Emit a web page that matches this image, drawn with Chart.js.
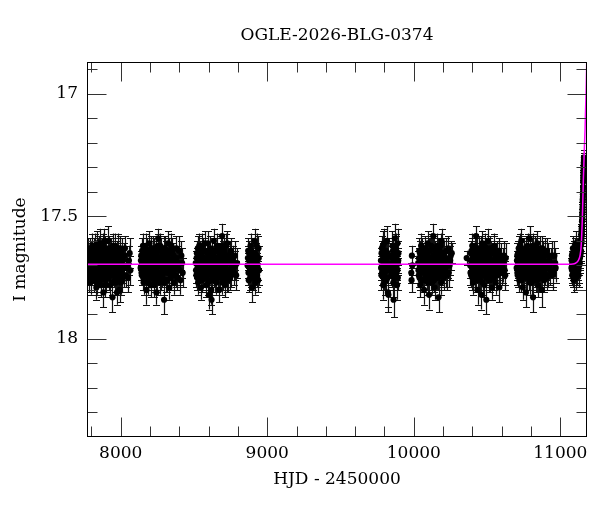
<!DOCTYPE html>
<html>
<head>
<meta charset="utf-8">
<script src="https://cdn.jsdelivr.net/npm/chart.js@4"></script>
<style>
html,body{margin:0;padding:0;background:#fff;}
#wrap{position:relative;width:600px;height:512px;}
</style>
</head>
<body>
<div id="wrap"><canvas id="c"></canvas></div>
<script>
// Observations per season: [HJD-2450000, I mag, error]
const season1 = [[7772,17.70,0.04],[7775,17.66,0.05],[7779,17.74,0.04],[7783,17.68,0.03],[7786,17.72,0.05],[7790,17.63,0.04],[7794,17.77,0.05],[7797,17.69,0.03],[7801,17.71,0.04],[7805,17.65,0.05],
[7808,17.73,0.04],[7812,17.67,0.04],[7816,17.76,0.05],[7819,17.70,0.03],[7823,17.62,0.05],[7827,17.74,0.04],[7830,17.68,0.04],[7834,17.79,0.05],[7838,17.66,0.04],[7841,17.71,0.03],
[7845,17.64,0.05],[7849,17.75,0.04],[7852,17.69,0.04],[7856,17.72,0.05],[7860,17.61,0.06],[7863,17.78,0.05],[7867,17.67,0.04],[7871,17.73,0.04],[7874,17.70,0.03],[7878,17.65,0.05],
[7882,17.81,0.06],[7885,17.69,0.04],[7887,17.60,0.05],[7889,17.74,0.04],[7893,17.63,0.05],[7896,17.71,0.04],[7900,17.76,0.05],[7904,17.68,0.04],[7907,17.66,0.04],[7911,17.72,0.03],[7915,17.60,0.06],
[7918,17.75,0.05],[7922,17.70,0.04],[7926,17.67,0.04],[7929,17.78,0.05],[7933,17.64,0.05],[7937,17.73,0.04],[7940,17.69,0.04],[7944,17.83,0.06],[7948,17.66,0.04],[7951,17.71,0.03],
[7955,17.74,0.05],[7959,17.62,0.05],[7962,17.70,0.04],[7966,17.77,0.05],[7970,17.68,0.04],[7973,17.65,0.05],[7975,17.81,0.05],[7977,17.72,0.04],[7981,17.75,0.04],[7984,17.63,0.06],[7988,17.70,0.04],
[7992,17.80,0.05],[7995,17.67,0.04],[7999,17.73,0.04],[8003,17.69,0.05],[8007,17.64,0.05],[8012,17.76,0.05],[8018,17.71,0.04],[8025,17.66,0.05],[8034,17.74,0.05],[8045,17.70,0.05],[8056,17.68,0.06],[8066,17.72,0.06],
[7774,17.73,0.04],[7777,17.64,0.05],[7781,17.70,0.04],[7784,17.76,0.05],[7788,17.67,0.04],[7792,17.71,0.04],[7795,17.65,0.05],[7799,17.74,0.04],[7803,17.69,0.04],[7806,17.62,0.05],
[7810,17.72,0.04],[7814,17.68,0.04],[7817,17.64,0.05],[7821,17.75,0.05],[7825,17.70,0.04],[7828,17.66,0.04],[7832,17.73,0.04],[7836,17.61,0.05],[7839,17.77,0.05],[7843,17.69,0.04],
[7847,17.67,0.04],[7850,17.72,0.04],[7854,17.63,0.05],[7858,17.74,0.04],[7861,17.70,0.04],[7865,17.76,0.05],[7869,17.65,0.04],[7872,17.68,0.04],[7876,17.73,0.05],[7880,17.62,0.05],
[7883,17.71,0.04],[7891,17.67,0.04],[7895,17.78,0.05],[7898,17.64,0.05],[7902,17.72,0.04],[7906,17.75,0.04],[7909,17.69,0.04],[7913,17.66,0.05],[7917,17.71,0.04],[7920,17.63,0.05],
[7924,17.74,0.04],[7928,17.68,0.04],[7931,17.72,0.04],[7935,17.65,0.05],[7939,17.77,0.05],[7942,17.70,0.04],[7946,17.62,0.05],[7950,17.74,0.04],[7953,17.67,0.04],[7957,17.71,0.04],
[7961,17.76,0.05],[7964,17.64,0.05],[7968,17.72,0.04],[7972,17.69,0.04],[7979,17.66,0.05],[7983,17.73,0.04],[7986,17.68,0.04],[7990,17.75,0.05],[7994,17.63,0.05],[7997,17.70,0.04],
[8001,17.77,0.05],[8005,17.66,0.04],[8009,17.72,0.05],[8015,17.68,0.05],[8021,17.74,0.05],[8029,17.63,0.05],[8039,17.71,0.05],[8050,17.75,0.06],[8061,17.65,0.06]];

const season2 = [[8136,17.71,0.05],[8140,17.66,0.04],[8144,17.74,0.04],[8148,17.69,0.05],[8152,17.62,0.05],[8156,17.77,0.05],[8160,17.70,0.04],[8164,17.65,0.04],[8168,17.73,0.04],[8172,17.68,0.03],
[8176,17.80,0.06],[8180,17.64,0.05],[8184,17.71,0.04],[8188,17.75,0.04],[8192,17.67,0.04],[8196,17.61,0.05],[8200,17.72,0.04],[8204,17.78,0.05],[8208,17.69,0.04],[8212,17.66,0.04],
[8216,17.74,0.05],[8220,17.63,0.05],[8224,17.70,0.03],[8228,17.76,0.05],[8232,17.68,0.04],[8236,17.72,0.04],[8240,17.65,0.05],[8244,17.81,0.05],[8248,17.69,0.04],[8252,17.62,0.05],
[8256,17.59,0.04],[8260,17.73,0.04],[8264,17.67,0.04],[8268,17.77,0.05],[8272,17.70,0.04],[8276,17.64,0.05],[8280,17.75,0.04],[8284,17.68,0.04],[8288,17.71,0.03],[8292,17.66,0.04],
[8296,17.84,0.06],[8300,17.72,0.04],[8304,17.63,0.05],[8308,17.69,0.04],[8312,17.76,0.05],[8316,17.67,0.04],[8320,17.73,0.04],[8324,17.61,0.05],[8328,17.70,0.04],[8332,17.79,0.05],
[8336,17.65,0.04],[8340,17.72,0.04],[8344,17.68,0.05],[8348,17.74,0.04],[8352,17.64,0.05],[8357,17.71,0.04],[8362,17.77,0.05],[8367,17.67,0.04],[8373,17.70,0.05],[8379,17.63,0.05],[8386,17.75,0.05],[8394,17.69,0.05],[8403,17.72,0.06],[8414,17.66,0.06],[8423,17.73,0.06],
[8138,17.68,0.04],[8142,17.73,0.05],[8146,17.64,0.05],[8150,17.70,0.04],[8154,17.75,0.05],[8158,17.66,0.04],[8162,17.72,0.04],[8166,17.69,0.04],[8170,17.62,0.05],[8174,17.74,0.04],
[8178,17.70,0.04],[8182,17.67,0.04],[8186,17.77,0.05],[8190,17.71,0.04],[8194,17.65,0.05],[8198,17.73,0.04],[8202,17.68,0.04],[8206,17.63,0.05],[8210,17.75,0.05],[8214,17.70,0.04],
[8218,17.67,0.04],[8222,17.72,0.04],[8226,17.64,0.05],[8230,17.78,0.05],[8234,17.69,0.04],[8238,17.74,0.04],[8242,17.66,0.04],[8246,17.71,0.04],[8250,17.76,0.05],[8254,17.68,0.04],
[8258,17.64,0.05],[8262,17.70,0.04],[8266,17.73,0.04],[8270,17.62,0.05],[8274,17.75,0.05],[8278,17.69,0.04],[8282,17.66,0.04],[8286,17.74,0.04],[8290,17.71,0.04],[8294,17.63,0.05],
[8298,17.77,0.05],[8302,17.68,0.04],[8306,17.72,0.04],[8310,17.65,0.05],[8314,17.70,0.04],[8318,17.76,0.05],[8322,17.67,0.04],[8326,17.73,0.04],[8330,17.64,0.05],[8334,17.71,0.04],
[8338,17.69,0.04],[8342,17.75,0.05],[8346,17.62,0.05],[8350,17.70,0.04],[8355,17.73,0.04],[8360,17.66,0.05],[8365,17.72,0.04],[8370,17.68,0.05],[8376,17.74,0.05],[8382,17.67,0.05],[8390,17.71,0.05],[8398,17.64,0.06],[8408,17.76,0.06],[8419,17.69,0.06]];

const season3 = [[8512,17.69,0.05],[8516,17.74,0.05],[8520,17.65,0.05],[8524,17.71,0.04],[8528,17.77,0.05],[8532,17.67,0.04],[8536,17.62,0.05],[8540,17.73,0.04],[8544,17.70,0.04],[8548,17.79,0.05],
[8552,17.66,0.04],[8556,17.72,0.04],[8560,17.64,0.05],[8564,17.75,0.04],[8568,17.69,0.03],[8572,17.61,0.05],[8576,17.73,0.04],[8580,17.68,0.04],[8584,17.78,0.05],[8588,17.71,0.04],
[8592,17.65,0.05],[8596,17.74,0.04],[8600,17.67,0.04],[8604,17.82,0.06],[8608,17.70,0.04],[8612,17.63,0.05],[8616,17.76,0.05],[8620,17.84,0.06],[8624,17.69,0.04],[8628,17.72,0.04],
[8632,17.66,0.04],[8636,17.60,0.05],[8640,17.74,0.05],[8644,17.68,0.04],[8648,17.71,0.03],[8652,17.77,0.05],[8656,17.64,0.05],[8660,17.70,0.04],[8664,17.73,0.04],[8668,17.67,0.04],
[8672,17.80,0.05],[8676,17.65,0.04],[8680,17.72,0.04],[8684,17.69,0.04],[8688,17.62,0.05],[8692,17.58,0.05],[8696,17.75,0.05],[8700,17.68,0.04],[8704,17.71,0.04],[8708,17.64,0.05],
[8712,17.78,0.05],[8716,17.70,0.04],[8720,17.66,0.04],[8724,17.73,0.04],[8728,17.61,0.05],[8733,17.76,0.05],[8738,17.69,0.04],[8743,17.72,0.04],[8749,17.65,0.05],[8755,17.74,0.05],[8762,17.68,0.05],[8770,17.71,0.05],[8779,17.66,0.06],[8788,17.74,0.06],[8794,17.69,0.06],
[8514,17.72,0.05],[8518,17.67,0.04],[8522,17.75,0.05],[8526,17.63,0.05],[8530,17.70,0.04],[8534,17.74,0.04],[8538,17.68,0.04],[8542,17.65,0.05],[8546,17.72,0.04],[8550,17.69,0.04],
[8554,17.76,0.05],[8558,17.62,0.05],[8562,17.71,0.04],[8566,17.67,0.04],[8570,17.73,0.04],[8574,17.70,0.04],[8578,17.64,0.05],[8582,17.75,0.05],[8586,17.68,0.04],[8590,17.72,0.04],
[8594,17.61,0.05],[8598,17.77,0.05],[8602,17.69,0.04],[8606,17.66,0.04],[8610,17.73,0.04],[8614,17.70,0.04],[8618,17.80,0.06],[8622,17.65,0.05],[8626,17.74,0.04],[8630,17.68,0.04],
[8634,17.71,0.04],[8638,17.64,0.05],[8642,17.76,0.05],[8646,17.70,0.04],[8650,17.67,0.04],[8654,17.73,0.04],[8658,17.62,0.05],[8662,17.75,0.05],[8666,17.69,0.04],[8670,17.72,0.04],
[8674,17.66,0.04],[8678,17.74,0.05],[8682,17.63,0.05],[8686,17.71,0.04],[8690,17.68,0.04],[8694,17.77,0.05],[8698,17.65,0.05],[8702,17.73,0.04],[8706,17.70,0.04],[8710,17.67,0.04],
[8714,17.74,0.04],[8718,17.62,0.05],[8722,17.69,0.04],[8726,17.76,0.05],[8730,17.66,0.04],[8735,17.72,0.04],[8740,17.68,0.04],[8746,17.75,0.05],[8752,17.64,0.05],[8758,17.71,0.05],[8766,17.67,0.05],[8774,17.73,0.05],[8783,17.70,0.06]];

const season4 = [[8866,17.70,0.05],[8870,17.64,0.05],[8874,17.76,0.05],[8878,17.68,0.04],[8882,17.72,0.04],[8886,17.62,0.05],[8890,17.74,0.05],[8894,17.67,0.04],[8898,17.79,0.06],[8902,17.70,0.04],
[8906,17.65,0.05],[8910,17.73,0.04],[8914,17.60,0.05],[8918,17.77,0.05],[8922,17.69,0.04],[8926,17.66,0.05],[8930,17.74,0.05],[8935,17.71,0.05],[8940,17.63,0.05],[8944,17.72,0.06],
[8868,17.67,0.05],[8872,17.73,0.05],[8876,17.65,0.05],[8880,17.71,0.04],[8884,17.75,0.05],[8888,17.68,0.04],[8892,17.64,0.05],[8896,17.72,0.04],[8900,17.66,0.05],[8904,17.75,0.05],
[8908,17.69,0.04],[8912,17.71,0.04],[8916,17.65,0.05],[8920,17.73,0.05],[8924,17.68,0.04],[8928,17.62,0.05],[8932,17.70,0.05],[8938,17.76,0.05],[8942,17.67,0.05]];

const season5 = [[9776,17.68,0.05],[9779,17.74,0.06],[9782,17.63,0.05],[9785,17.71,0.05],[9788,17.66,0.05],[9791,17.78,0.06],[9794,17.70,0.05],[9797,17.61,0.06],[9800,17.73,0.05],[9803,17.67,0.05],
[9806,17.76,0.06],[9809,17.64,0.05],[9812,17.72,0.05],[9815,17.69,0.05],[9818,17.60,0.06],[9821,17.75,0.05],[9824,17.81,0.06],[9827,17.82,0.07],[9830,17.70,0.05],
[9848,17.66,0.05],[9851,17.73,0.05],[9854,17.62,0.06],[9857,17.70,0.05],[9860,17.77,0.06],[9862,17.84,0.07],[9865,17.67,0.05],[9868,17.72,0.05],[9871,17.59,0.06],[9874,17.74,0.05],
[9877,17.68,0.05],[9880,17.64,0.06],[9883,17.71,0.05],[9886,17.78,0.06],[9889,17.61,0.06],[9892,17.69,0.05],[9895,17.65,0.05],
[9777,17.71,0.05],[9780,17.65,0.05],[9783,17.73,0.05],[9786,17.68,0.05],[9789,17.62,0.06],[9792,17.70,0.05],[9795,17.75,0.05],[9798,17.66,0.05],[9801,17.69,0.05],[9804,17.72,0.05],
[9807,17.64,0.05],[9810,17.70,0.05],[9813,17.76,0.06],[9816,17.67,0.05],[9819,17.72,0.05],[9822,17.65,0.05],[9826,17.70,0.05],
[9846,17.69,0.05],[9849,17.74,0.05],[9852,17.67,0.05],[9855,17.72,0.05],[9858,17.64,0.05],[9861,17.70,0.05],[9864,17.75,0.05],[9867,17.66,0.05],[9870,17.71,0.05],[9873,17.68,0.05],
[9876,17.63,0.06],[9879,17.73,0.05],[9882,17.69,0.05],[9885,17.66,0.05],[9888,17.72,0.05],[9891,17.75,0.05],[9894,17.68,0.05]];

const season6 = [[9983,17.73,0.04],[9985,17.76,0.05],[9987,17.66,0.04],[9990,17.70,0.04],
[10030,17.69,0.05],[10034,17.74,0.05],[10037,17.64,0.05],[10040,17.71,0.04],[10044,17.78,0.05],[10047,17.67,0.04],[10050,17.62,0.05],[10054,17.72,0.04],[10057,17.69,0.04],[10060,17.76,0.05],
[10064,17.65,0.04],[10067,17.71,0.04],[10070,17.80,0.06],[10074,17.68,0.04],[10077,17.63,0.05],[10080,17.73,0.04],[10084,17.70,0.03],[10087,17.66,0.04],[10090,17.75,0.05],[10094,17.61,0.05],
[10097,17.72,0.04],[10100,17.68,0.04],[10104,17.82,0.06],[10107,17.70,0.04],[10110,17.64,0.05],[10114,17.74,0.04],[10117,17.67,0.04],[10120,17.71,0.03],[10124,17.77,0.05],[10127,17.63,0.05],
[10130,17.69,0.04],[10133,17.58,0.05],[10136,17.73,0.04],[10139,17.66,0.04],[10142,17.79,0.05],[10145,17.70,0.04],[10148,17.65,0.05],[10151,17.72,0.04],[10154,17.68,0.04],[10157,17.75,0.05],
[10160,17.62,0.05],[10163,17.71,0.04],[10166,17.67,0.04],[10169,17.83,0.06],[10172,17.69,0.04],[10175,17.64,0.05],[10178,17.74,0.04],[10181,17.70,0.04],[10184,17.66,0.05],[10187,17.77,0.05],
[10190,17.60,0.05],[10194,17.72,0.04],[10198,17.68,0.05],[10203,17.75,0.05],[10208,17.65,0.05],[10214,17.71,0.05],[10220,17.67,0.05],[10227,17.74,0.06],[10235,17.63,0.05],[10244,17.70,0.06],[10252,17.66,0.06],[10259,17.65,0.04],
[10032,17.72,0.05],[10035,17.67,0.04],[10039,17.75,0.05],[10042,17.65,0.05],[10045,17.70,0.04],[10049,17.73,0.04],[10052,17.68,0.04],[10055,17.64,0.05],[10059,17.71,0.04],[10062,17.69,0.04],
[10065,17.76,0.05],[10069,17.66,0.04],[10072,17.72,0.04],[10075,17.70,0.04],[10079,17.63,0.05],[10082,17.74,0.04],[10085,17.68,0.04],[10089,17.71,0.04],[10092,17.66,0.04],[10095,17.77,0.05],
[10099,17.69,0.04],[10102,17.64,0.05],[10105,17.73,0.04],[10109,17.70,0.04],[10112,17.67,0.04],[10115,17.75,0.05],[10119,17.62,0.05],[10122,17.71,0.04],[10125,17.68,0.04],[10129,17.74,0.04],
[10132,17.66,0.04],[10135,17.70,0.04],[10138,17.76,0.05],[10141,17.63,0.05],[10144,17.72,0.04],[10147,17.69,0.04],[10150,17.67,0.04],[10153,17.74,0.05],[10156,17.65,0.05],[10159,17.71,0.04],
[10162,17.68,0.04],[10165,17.75,0.05],[10168,17.64,0.05],[10171,17.72,0.04],[10174,17.70,0.04],[10177,17.66,0.04],[10180,17.73,0.04],[10183,17.62,0.05],[10186,17.69,0.04],[10189,17.74,0.05],
[10192,17.67,0.04],[10196,17.71,0.04],[10200,17.65,0.05],[10205,17.72,0.05],[10211,17.68,0.05],[10217,17.74,0.05],[10223,17.64,0.05],[10231,17.70,0.05],[10239,17.73,0.06],[10248,17.68,0.06]];

const season7 = [[10361,17.67,0.03],
[10385,17.70,0.05],[10389,17.65,0.05],[10392,17.74,0.05],[10395,17.68,0.04],[10399,17.62,0.05],[10402,17.72,0.04],[10405,17.77,0.05],[10409,17.66,0.04],[10412,17.71,0.04],[10415,17.64,0.05],
[10419,17.75,0.05],[10422,17.69,0.04],[10425,17.58,0.04],[10428,17.73,0.04],[10432,17.67,0.04],[10435,17.80,0.06],[10438,17.70,0.04],[10442,17.63,0.05],[10445,17.72,0.04],[10448,17.68,0.03],
[10452,17.76,0.05],[10455,17.65,0.04],[10458,17.71,0.04],[10462,17.82,0.06],[10465,17.69,0.04],[10468,17.61,0.05],[10472,17.74,0.04],[10475,17.67,0.04],[10478,17.70,0.03],[10482,17.78,0.05],
[10485,17.64,0.05],[10488,17.72,0.04],[10492,17.68,0.04],[10495,17.84,0.06],[10498,17.66,0.04],[10502,17.73,0.04],[10505,17.60,0.05],[10508,17.70,0.04],[10512,17.76,0.05],[10515,17.67,0.04],
[10518,17.71,0.04],[10522,17.63,0.05],[10525,17.74,0.04],[10528,17.69,0.04],[10532,17.79,0.05],[10535,17.65,0.04],[10538,17.72,0.04],[10542,17.68,0.05],[10546,17.75,0.05],[10550,17.62,0.05],
[10554,17.70,0.04],[10558,17.77,0.05],[10563,17.66,0.05],[10568,17.72,0.05],[10574,17.69,0.05],[10580,17.64,0.05],[10584,17.79,0.06],[10591,17.73,0.05],[10598,17.68,0.05],[10606,17.71,0.06],[10615,17.66,0.06],[10624,17.74,0.06],
[10387,17.73,0.05],[10390,17.68,0.04],[10394,17.64,0.05],[10397,17.71,0.04],[10400,17.75,0.05],[10404,17.67,0.04],[10407,17.70,0.04],[10410,17.73,0.04],[10414,17.69,0.04],[10417,17.62,0.05],
[10420,17.72,0.04],[10424,17.66,0.04],[10427,17.76,0.05],[10430,17.70,0.04],[10434,17.64,0.05],[10437,17.73,0.04],[10440,17.68,0.04],[10444,17.75,0.05],[10447,17.66,0.04],[10450,17.71,0.04],
[10454,17.69,0.04],[10457,17.63,0.05],[10460,17.74,0.04],[10464,17.67,0.04],[10467,17.72,0.04],[10470,17.77,0.05],[10474,17.65,0.05],[10477,17.71,0.04],[10480,17.68,0.04],[10484,17.73,0.04],
[10487,17.62,0.05],[10490,17.70,0.04],[10494,17.75,0.05],[10497,17.69,0.04],[10500,17.66,0.04],[10504,17.72,0.04],[10507,17.67,0.04],[10510,17.74,0.05],[10514,17.64,0.05],[10517,17.70,0.04],
[10520,17.76,0.05],[10524,17.68,0.04],[10527,17.72,0.04],[10530,17.65,0.05],[10534,17.71,0.04],[10537,17.69,0.04],[10540,17.75,0.05],[10544,17.63,0.05],[10548,17.70,0.04],[10552,17.73,0.04],
[10556,17.67,0.04],[10561,17.71,0.05],[10566,17.65,0.05],[10571,17.74,0.05],[10577,17.68,0.05],[10587,17.71,0.05],[10594,17.66,0.05],[10602,17.73,0.05],[10610,17.69,0.06],[10620,17.72,0.06],[10628,17.67,0.06]];

const season8 = [[10702,17.71,0.05],[10706,17.66,0.05],[10709,17.74,0.05],[10713,17.69,0.04],[10716,17.63,0.05],[10720,17.76,0.05],[10723,17.70,0.04],[10727,17.65,0.05],[10730,17.72,0.04],[10734,17.60,0.05],
[10737,17.74,0.04],[10741,17.68,0.04],[10744,17.79,0.05],[10748,17.66,0.04],[10751,17.71,0.03],[10755,17.64,0.05],[10758,17.73,0.04],[10762,17.69,0.04],[10765,17.81,0.06],[10769,17.67,0.04],
[10772,17.72,0.04],[10776,17.62,0.05],[10779,17.70,0.04],[10783,17.75,0.05],[10786,17.68,0.04],[10790,17.59,0.05],[10793,17.73,0.04],[10797,17.66,0.04],[10800,17.71,0.03],[10804,17.77,0.05],
[10807,17.64,0.05],[10811,17.70,0.04],[10814,17.83,0.06],[10818,17.68,0.04],[10821,17.74,0.04],[10825,17.63,0.05],[10828,17.69,0.04],[10832,17.76,0.05],[10835,17.66,0.04],[10839,17.72,0.04],
[10842,17.61,0.05],[10846,17.70,0.04],[10849,17.78,0.05],[10853,17.67,0.04],[10856,17.73,0.04],[10860,17.65,0.05],[10863,17.71,0.04],[10867,17.75,0.05],[10870,17.68,0.04],[10873,17.80,0.07],
[10877,17.63,0.05],[10881,17.72,0.04],[10885,17.69,0.05],[10890,17.76,0.05],[10895,17.66,0.05],[10901,17.71,0.05],[10908,17.64,0.05],[10915,17.74,0.05],[10923,17.68,0.05],[10932,17.72,0.06],[10942,17.66,0.06],[10953,17.73,0.06],[10965,17.69,0.06],
[10704,17.68,0.04],[10707,17.73,0.05],[10711,17.65,0.05],[10714,17.71,0.04],[10718,17.69,0.04],[10721,17.74,0.05],[10725,17.67,0.04],[10728,17.62,0.05],[10732,17.70,0.04],[10735,17.76,0.05],
[10739,17.66,0.04],[10742,17.72,0.04],[10746,17.69,0.04],[10749,17.64,0.05],[10753,17.74,0.04],[10756,17.70,0.04],[10760,17.67,0.04],[10763,17.73,0.04],[10767,17.63,0.05],[10770,17.75,0.05],
[10774,17.68,0.04],[10777,17.71,0.04],[10781,17.65,0.05],[10784,17.72,0.04],[10788,17.69,0.04],[10791,17.77,0.05],[10795,17.64,0.05],[10798,17.70,0.04],[10802,17.73,0.04],[10805,17.67,0.04],
[10809,17.75,0.05],[10812,17.62,0.05],[10816,17.71,0.04],[10819,17.69,0.04],[10823,17.66,0.04],[10826,17.74,0.05],[10830,17.68,0.04],[10833,17.72,0.04],[10837,17.64,0.05],[10840,17.70,0.04],
[10844,17.76,0.05],[10847,17.66,0.04],[10851,17.71,0.04],[10854,17.69,0.04],[10858,17.74,0.05],[10861,17.63,0.05],[10865,17.70,0.04],[10868,17.72,0.04],[10872,17.67,0.04],[10875,17.75,0.05],
[10879,17.65,0.05],[10883,17.71,0.04],[10887,17.68,0.05],[10892,17.73,0.05],[10898,17.64,0.05],[10904,17.70,0.05],[10911,17.75,0.05],[10919,17.66,0.05],[10927,17.71,0.06],[10937,17.69,0.06],[10947,17.74,0.06],[10959,17.66,0.06],[10968,17.71,0.06]];

const season9 = [[11076,17.71,0.04],[11079,17.66,0.05],[11081,17.74,0.04],[11084,17.69,0.04],[11086,17.63,0.05],[11089,17.72,0.04],[11091,17.76,0.05],[11094,17.68,0.04],[11096,17.65,0.05],[11099,17.73,0.04],
[11101,17.70,0.04],[11104,17.61,0.05],[11106,17.75,0.05],[11109,17.67,0.04],[11111,17.71,0.04],[11114,17.64,0.05],[11116,17.74,0.04],[11119,17.69,0.04],[11121,17.66,0.04],[11124,17.72,0.05],[11126,17.63,0.04],
[11128,17.68,0.04],[11131,17.66,0.05],[11133,17.69,0.04],[11135,17.64,0.04],[11137,17.66,0.05],[11139,17.62,0.04],[11141,17.64,0.04],[11142,17.60,0.04],[11144,17.57,0.04],[11145,17.60,0.05],
[11146,17.55,0.04],[11147,17.57,0.04],[11148,17.52,0.04],[11149,17.54,0.03],[11150,17.49,0.04],[11151,17.51,0.03],[11152,17.46,0.03],[11153,17.44,0.03],[11154,17.42,0.04],[11155,17.40,0.03],
[11156,17.38,0.03],[11157,17.35,0.03],[11158,17.33,0.03],[11159,17.31,0.03],[11160,17.29,0.03],[11161,17.27,0.03],[11162,17.26,0.03],[11163,17.28,0.03],
[11077,17.68,0.04],[11080,17.72,0.05],[11083,17.65,0.04],[11085,17.70,0.04],[11088,17.74,0.05],[11090,17.66,0.04],[11093,17.71,0.04],[11095,17.69,0.04],[11098,17.64,0.05],[11100,17.73,0.04],
[11103,17.68,0.04],[11105,17.71,0.04],[11108,17.65,0.05],[11110,17.74,0.05],[11113,17.69,0.04],[11115,17.67,0.04],[11118,17.72,0.04],[11120,17.64,0.05],[11123,17.70,0.04],[11125,17.74,0.05],[11127,17.66,0.04],
[11129,17.70,0.04],[11132,17.64,0.04],[11134,17.67,0.05],[11136,17.62,0.04],[11138,17.65,0.04],[11140,17.61,0.04],[11143,17.58,0.04],[11144,17.61,0.04],[11145,17.56,0.04],[11146,17.58,0.04],
[11147,17.54,0.04],[11148,17.55,0.04],[11149,17.50,0.03],[11150,17.52,0.04],[11151,17.47,0.03],[11152,17.48,0.03],[11153,17.43,0.03],[11154,17.41,0.03],[11155,17.38,0.03],[11156,17.36,0.03],
[11157,17.34,0.03],[11158,17.32,0.03],[11159,17.30,0.03],[11160,17.28,0.03],[11161,17.26,0.03],[11162,17.27,0.03]];

// Model light curve (magenta)
const modelHjd = [7770, 11060, 11085, 11100, 11113, 11122, 11130, 11136, 11141, 11145, 11149, 11152, 11155, 11157, 11160, 11162, 11166, 11169, 11172, 11175, 11178, 11181, 11184];
const modelMag = [17.695, 17.695, 17.694, 17.692, 17.687, 17.68, 17.67, 17.655, 17.63, 17.59, 17.53, 17.47, 17.40, 17.35, 17.30, 17.26, 17.19, 17.14, 17.07, 17.01, 16.93, 16.85, 16.76];

// Ticks
const xMajorTicks = [8000, 9000, 10000, 11000];
const xMinorTicks = [7800, 8200, 8400, 8600, 8800, 9200, 9400, 9600, 9800, 10200, 10400, 10600, 10800];
const yMajorTicks = [17, 17.5, 18];
const yTickLabels = ['17', '17.5', '18'];
const yMinorTicks = [16.9, 17.1, 17.2, 17.3, 17.4, 17.6, 17.7, 17.8, 17.9, 18.1, 18.2, 18.3];

const observations = [season1, season2, season3, season4, season5, season6, season7, season8, season9]
  .flat().map(p => ({x: p[0], y: p[1], e: p[2]}));
const model = modelHjd.map((t, i) => ({x: t, y: modelMag[i]}));

const FONT = 'DejaVu Serif';

const errorBars = {
  id: 'errorBars',
  beforeDatasetsDraw(chart) {
    const {ctx, chartArea: a} = chart;
    const xs = chart.scales.x, ys = chart.scales.y;
    ctx.save();
    ctx.beginPath();
    ctx.rect(a.left, a.top, a.right - a.left, a.bottom - a.top);
    ctx.clip();
    ctx.strokeStyle = '#111';
    ctx.lineWidth = 1.2;
    ctx.beginPath();
    for (const p of observations) {
      const px = Math.round(xs.getPixelForValue(p.x)) + 0.5;
      const y1 = ys.getPixelForValue(p.y - p.e);
      const y2 = ys.getPixelForValue(p.y + p.e);
      ctx.moveTo(px, y1); ctx.lineTo(px, y2);
      ctx.moveTo(px - 3.5, Math.round(y1) + 0.5); ctx.lineTo(px + 3.5, Math.round(y1) + 0.5);
      ctx.moveTo(px - 3.5, Math.round(y2) + 0.5); ctx.lineTo(px + 3.5, Math.round(y2) + 0.5);
    }
    ctx.stroke();
    ctx.restore();
  }
};

const frameTicks = {
  id: 'frameTicks',
  afterDraw(chart) {
    const {ctx, chartArea: a} = chart;
    const xs = chart.scales.x, ys = chart.scales.y;
    const L = Math.round(a.left) + 0.5, R = Math.round(a.right) - 0.5;
    const T = Math.round(a.top) + 0.5, B = Math.round(a.bottom) - 0.5;
    ctx.save();
    ctx.strokeStyle = '#333';
    ctx.lineWidth = 1;
    ctx.beginPath();
    const xt = (v, len) => {
      const px = Math.round(xs.getPixelForValue(v)) + 0.5;
      ctx.moveTo(px, B); ctx.lineTo(px, B - len);
      ctx.moveTo(px, T); ctx.lineTo(px, T + len);
    };
    const yt = (v, len) => {
      const py = Math.round(ys.getPixelForValue(v)) + 0.5;
      ctx.moveTo(L, py); ctx.lineTo(L + len, py);
      ctx.moveTo(R, py); ctx.lineTo(R - len, py);
    };
    xMajorTicks.forEach(v => xt(v, 19));
    xMinorTicks.forEach(v => xt(v, 10));
    yMajorTicks.forEach(v => yt(v, 19));
    yMinorTicks.forEach(v => yt(v, 10));
    ctx.stroke();
    ctx.strokeStyle = '#000';
    ctx.strokeRect(L, T, R - L, B - T);
    ctx.restore();
  }
};

new Chart(document.getElementById('c'), {
  type: 'scatter',
  data: {
    datasets: [
      {
        type: 'line',
        label: 'model',
        data: model,
        borderColor: '#ff00ff',
        borderWidth: 1.5,
        pointRadius: 0,
        fill: false,
        cubicInterpolationMode: 'monotone',
        order: 0
      },
      {
        label: 'OGLE I',
        data: observations,
        backgroundColor: '#000',
        borderColor: '#000',
        borderWidth: 0,
        pointRadius: 3.1,
        order: 1
      }
    ]
  },
  options: {
    responsive: true,
    maintainAspectRatio: false,
    animation: false,
    devicePixelRatio: 1,
    layout: {padding: {left: 0, right: 13, top: 0, bottom: 0}},
    plugins: {
      legend: {display: false},
      tooltip: {enabled: false},
      title: {
        display: true,
        text: 'OGLE-2026-BLG-0374',
        fullSize: false,
        color: '#000',
        font: {family: FONT, size: 17, weight: 'normal', lineHeight: 1.2},
        padding: {top: 25, bottom: 16.6}
      }
    },
    scales: {
      x: {
        type: 'linear',
        position: 'bottom',
        min: 7770,
        max: 11182,
        grid: {display: false, drawTicks: false},
        border: {display: false},
        afterBuildTicks: s => { s.ticks = xMajorTicks.map(v => ({value: v})); },
        afterFit: s => { s.height = 75; },
        ticks: {
          color: '#000',
          font: {family: FONT, size: 17},
          padding: 6,
          maxRotation: 0,
          callback: v => String(v)
        },
        title: {
          display: true,
          text: 'HJD - 2450000',
          color: '#000',
          font: {family: FONT, size: 17, lineHeight: 1.2},
          padding: {top: 0, bottom: 22}
        }
      },
      y: {
        type: 'linear',
        position: 'left',
        reverse: true,
        min: 16.87,
        max: 18.40,
        grid: {display: false, drawTicks: false},
        border: {display: false},
        afterBuildTicks: s => { s.ticks = yMajorTicks.map(v => ({value: v})); },
        afterFit: s => { s.width = 87; },
        ticks: {
          color: '#000',
          font: {family: FONT, size: 17},
          padding: 9,
          callback: (v, i) => yTickLabels[i]
        },
        title: {
          display: true,
          text: 'I magnitude',
          color: '#000',
          font: {family: FONT, size: 17, lineHeight: 1.2},
          padding: {top: 10, bottom: 0}
        }
      }
    }
  },
  plugins: [errorBars, frameTicks]
});
</script>
</body>
</html>
